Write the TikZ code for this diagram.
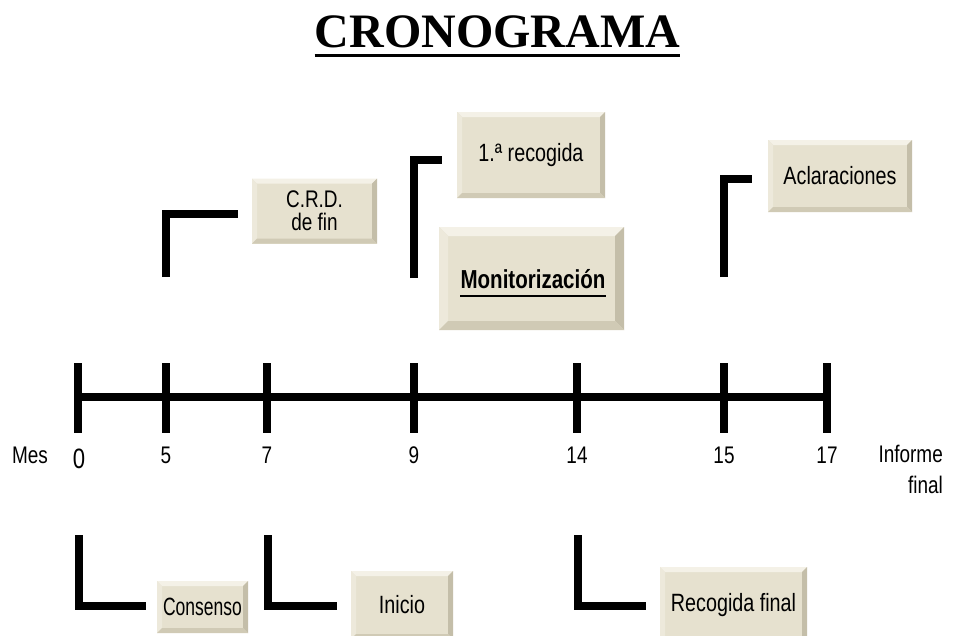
\documentclass[tikz,border=0pt]{standalone}
\usepackage{fontspec}
\setmainfont{Liberation Sans}
\newfontfamily\narrowfont[FakeStretch=0.79]{Liberation Sans}
\newfontfamily\consfont[FakeStretch=0.70]{Liberation Sans}
\newfontfamily\titlefont{Liberation Serif}
\definecolor{boxface}{HTML}{E6E1CF}
\definecolor{bevtop}{HTML}{F4F1E7}
\definecolor{bevleft}{HTML}{EDE9DB}
\definecolor{bevright}{HTML}{C4BEA9}
\definecolor{bevbottom}{HTML}{D0CAB5}
\tikzset{
  bevelbox/.style={draw=none, fill=boxface, inner sep=0pt, align=center,
    font=\narrowfont\fontsize{25}{21}\selectfont,
    path picture={
      \fill[bevtop] (path picture bounding box.north west) -- (path picture bounding box.north east)
        -- ([shift={(-#1,-#1)}]path picture bounding box.north east) -- ([shift={(#1,-#1)}]path picture bounding box.north west) -- cycle;
      \fill[bevleft] (path picture bounding box.north west) -- (path picture bounding box.south west)
        -- ([shift={(#1,#1)}]path picture bounding box.south west) -- ([shift={(#1,-#1)}]path picture bounding box.north west) -- cycle;
      \fill[bevright] (path picture bounding box.north east) -- (path picture bounding box.south east)
        -- ([shift={(-#1,#1)}]path picture bounding box.south east) -- ([shift={(-#1,-#1)}]path picture bounding box.north east) -- cycle;
      \fill[bevbottom] (path picture bounding box.south west) -- (path picture bounding box.south east)
        -- ([shift={(-#1,#1)}]path picture bounding box.south east) -- ([shift={(#1,#1)}]path picture bounding box.south west) -- cycle;
    }},
  bracketline/.style={line width=7.5pt, line join=miter, line cap=butt},
  axisline/.style={line width=8pt, line cap=butt},
  axislabel/.style={inner sep=0pt, font=\narrowfont\fontsize{24}{31}\selectfont},
}
\begin{document}
\begin{tikzpicture}[x=1pt, y=-1pt]
\clip (0,0) rectangle (959,635);
\fill[white] (0,0) rectangle (959,635);

% title
\node[inner sep=0pt, anchor=base, font=\titlefont\bfseries\fontsize{48}{50}\selectfont] (title) at (497.5,47) {CRONOGRAMA};
\draw[line width=3pt] ([yshift=-8pt]title.base west) -- ([yshift=-8pt]title.base east);

% axis
\coordinate (a0) at (78,397);
\coordinate (a5) at (166,397);
\coordinate (a7) at (267,397);
\coordinate (a9) at (414,397);
\coordinate (a14) at (577,397);
\coordinate (a15) at (724,397);
\coordinate (a17) at (827,397);
\draw[axisline] (a0) -- (a17);
\foreach \p in {a0,a5,a7,a9,a14,a15,a17}
  \draw[axisline] ([yshift=34pt]\p) -- ([yshift=-36pt]\p);

% axis labels
\node[axislabel] (mes) at (30,455) {Mes};
\node[axislabel, font=\narrowfont\fontsize{28}{30}\selectfont] (l0) at (79,459) {0};
\node[axislabel] (l5) at (166,455) {5};
\node[axislabel] (l7) at (267,455) {7};
\node[axislabel] (l9) at (414,455) {9};
\node[axislabel] (l14) at (577,455) {14};
\node[axislabel] (l15) at (724,455) {15};
\node[axislabel] (l17) at (827,455) {17};
\node[axislabel, align=right, anchor=east] (inf) at (943,469) {Informe\\final};

% top boxes
\node[bevelbox=5pt, minimum width=125pt, minimum height=65pt, font=\narrowfont\fontsize{24}{23}\selectfont] (crd) at (314.5,211) {C.R.D.\\de fin};
\node[bevelbox=5pt, minimum width=148pt, minimum height=86pt] (rec1) at (531,155) {1.ª recogida};
\node[bevelbox=9pt, minimum width=185pt, minimum height=103pt] (monbox) at (531.5,278.5) {};
\node[inner sep=0pt, anchor=base, font=\narrowfont\bfseries\fontsize{26}{26}\selectfont] (mon) at (533,288) {Monitorización};
\draw[line width=2.2pt] ([yshift=-8pt]mon.base west) -- ([yshift=-8pt]mon.base east);
\node[bevelbox=5pt, minimum width=144pt, minimum height=72pt] (acl) at (840,176) {Aclaraciones};

% bottom boxes
\node[bevelbox=5pt, minimum width=91pt, minimum height=52pt, font=\consfont\fontsize{25}{21}\selectfont] (cons) at (202.5,607) {Consenso};
\node[bevelbox=5pt, minimum width=102pt, minimum height=68pt] (ini) at (402,605) {Inicio};
\node[bevelbox=5pt, minimum width=147pt, minimum height=76pt] (recf) at (733.5,605) {Recogida final};

% brackets above
\draw[bracketline] (166,277) -- (166,214) -- (238,214);
\draw[bracketline] (414,278) -- (414,160) -- (442,160);
\draw[bracketline] (724,277) -- (724,179) -- (752,179);
% brackets below
\draw[bracketline] (79,535) -- (79,606) -- (146,606);
\draw[bracketline] (268,535) -- (268,606) -- (337,606);
\draw[bracketline] (578,535) -- (578,606) -- (646,606);
\end{tikzpicture}
\end{document}
